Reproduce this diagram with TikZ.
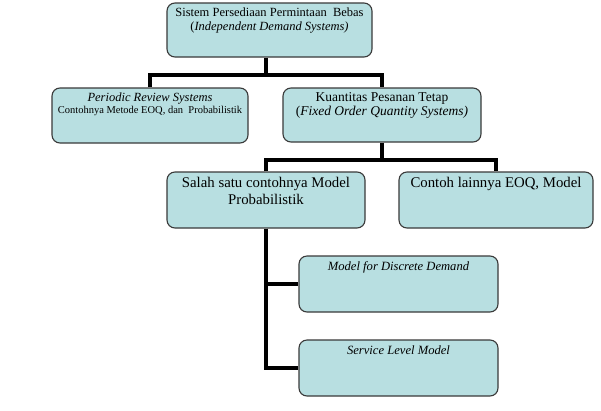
\documentclass[tikz,border=0pt]{standalone}
\usepackage{fontspec}
\setmainfont{Liberation Serif}
\definecolor{boxfill}{HTML}{B8DFE1}
\definecolor{boxdraw}{HTML}{3A3A3A}
\begin{document}
\begin{tikzpicture}[x=1pt,y=-1pt,
  box/.style={draw=boxdraw,line width=1.1pt,fill=boxfill,rounded corners=8pt,inner sep=0pt},
  txt/.style={anchor=north,align=center,inner sep=0pt},
  conn/.style={line width=3.2pt,draw=black}]
\useasboundingbox[fill=white] (0,0) rectangle (601,410);
% boxes
\node[box,minimum width=205pt,minimum height=54pt] (top) at (269.5,30) {};
\node[box,minimum width=196pt,minimum height=55pt] (periodic) at (150,115.5) {};
\node[box,minimum width=198pt,minimum height=54pt] (kuant) at (382,115) {};
\node[box,minimum width=198pt,minimum height=56pt] (salah) at (266,200) {};
\node[box,minimum width=194pt,minimum height=56pt] (contoh) at (496,200) {};
\node[box,minimum width=199pt,minimum height=56pt] (model) at (398.5,284) {};
\node[box,minimum width=199pt,minimum height=56pt] (service) at (398.5,368) {};
% texts
\node[txt,font=\fontsize{12.5}{14.5}\selectfont] (ttop) at ([yshift=-5pt]top.north)
  {Sistem Persediaan Permintaan\ \ Bebas\\(\textit{Independent Demand Systems)}};
\node[txt] (tperiodic) at ([yshift=-5pt]periodic.north)
  {\fontsize{12.5}{13}\selectfont\textit{Periodic Review Systems}\\
   \fontsize{10.5}{11.5}\selectfont Contohnya Metode EOQ, dan\ \ Probabilistik};
\node[txt,font=\fontsize{13.5}{13.5}\selectfont] (tkuant) at ([yshift=-5pt]kuant.north)
  {Kuantitas Pesanan Tetap\\(\textit{Fixed Order Quantity Systems)}};
\node[txt,font=\fontsize{14.8}{17}\selectfont] (tsalah) at ([yshift=-6pt]salah.north)
  {Salah satu contohnya Model\\Probabilistik};
\node[txt,font=\fontsize{14.8}{17}\selectfont] (tcontoh) at ([yshift=-6pt]contoh.north)
  {Contoh lainnya EOQ, Model};
\node[txt,font=\fontsize{12.6}{14}\selectfont\itshape] (tmodel) at ([yshift=-6pt]model.north)
  {Model for Discrete Demand};
\node[txt,font=\fontsize{12.6}{14}\selectfont\itshape] (tservice) at ([yshift=-6pt]service.north)
  {Service Level Model};
% connectors
\coordinate (bar1) at (266,75);
\coordinate (bar2) at (382,160);
\draw[conn] (top.south -| bar1) -- (bar1);
\draw[conn] (periodic.north) |- (bar1) -| (kuant.north);
\draw[conn] (kuant.south) -- (bar2);
\draw[conn] (salah.north) |- (bar2) -| (contoh.north);
\draw[conn] (salah.south) |- (model.west);
\draw[conn] (salah.south) |- (service.west);
\end{tikzpicture}
\end{document}
